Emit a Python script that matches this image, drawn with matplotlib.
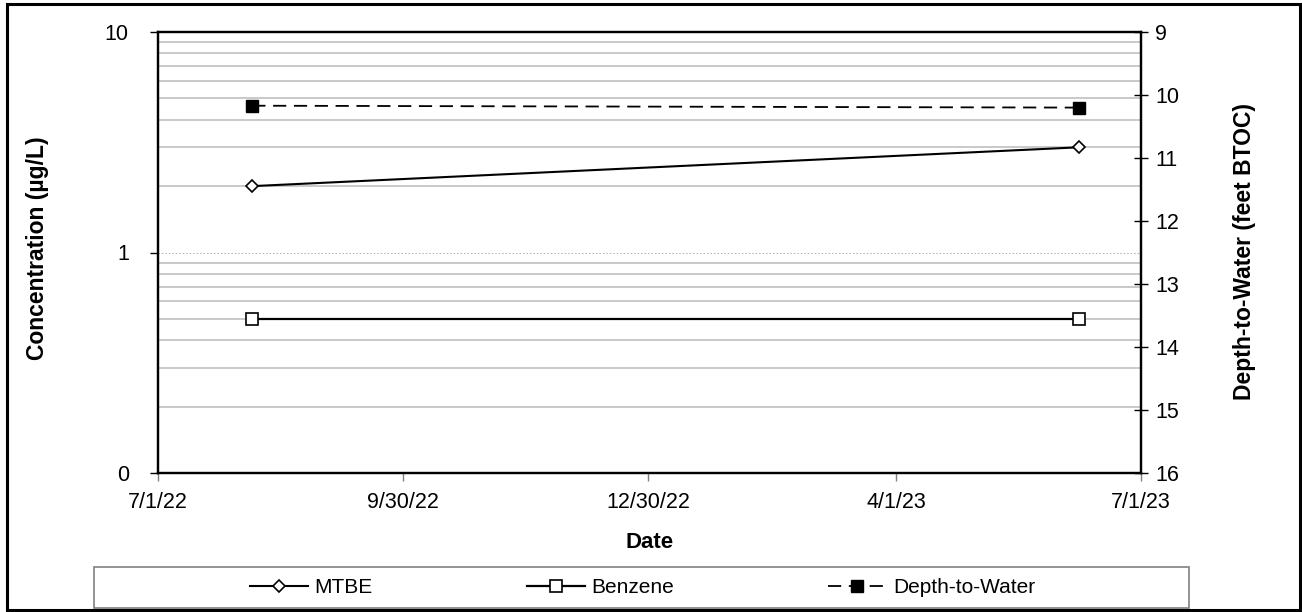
import datetime as dt
import matplotlib
matplotlib.use('Agg')
import matplotlib.pyplot as plt
import matplotlib.dates as mdates
from matplotlib.patches import Rectangle
from matplotlib.ticker import FixedLocator, NullFormatter

plt.rcParams['font.family'] = ['Liberation Sans', 'DejaVu Sans']
plt.rcParams['lines.scale_dashes'] = False

# Data
dates = [dt.date(2022, 8, 5), dt.date(2023, 6, 8)]
mtbe = [2.0, 3.0]
benzene = [0.5, 0.5]
depth = [10.17, 10.20]

tick_dates = [dt.date(2022, 7, 1), dt.date(2022, 9, 30), dt.date(2022, 12, 30),
              dt.date(2023, 4, 1), dt.date(2023, 7, 1)]
tick_labels = ['7/1/22', '9/30/22', '12/30/22', '4/1/23', '7/1/23']
conc_ticks = [0.1, 1, 10]
conc_labels = ['0', '1', '10']
depth_ticks = [9, 10, 11, 12, 13, 14, 15, 16]

W, H = 1302, 612
fig = plt.figure(figsize=(W / 100, H / 100), dpi=100)
ax = fig.add_axes([158 / W, 1 - 473 / H, (1141 - 158) / W, (473 - 32) / H])
ax2 = ax.twinx()

# left axis: log concentration
ax.set_yscale('log')
ax.set_ylim(0.1, 10)
ax.yaxis.set_major_locator(FixedLocator(conc_ticks))
ax.set_yticklabels(conc_labels)
minor = [m * d for d in (0.1, 1) for m in range(2, 10)]
ax.yaxis.set_minor_locator(FixedLocator(minor))
ax.yaxis.set_minor_formatter(NullFormatter())
ax.grid(True, which='minor', axis='y', color='#c0c0c0', lw=1.2)
ax.grid(True, which='major', axis='y', color='#a0a0a0', lw=0.6, ls=(0, (1, 1.5)))
ax.tick_params(axis='y', which='minor', length=0)
ax.tick_params(axis='y', which='major', direction='out', length=6, width=1,
               labelsize=15.5, pad=15)

# x axis: dates
ax.set_xlim(mdates.date2num(tick_dates[0]), mdates.date2num(tick_dates[-1]))
ax.set_xticks(mdates.date2num(tick_dates))
ax.set_xticklabels(tick_labels)
ax.tick_params(axis='x', direction='out', length=6, width=1, color='#808080',
               labelsize=15.5, pad=8)

for s in ax.spines.values():
    s.set_linewidth(1.6)
for s in ax2.spines.values():
    s.set_linewidth(1.6)

l1, = ax.plot(mdates.date2num(dates), mtbe, color='black', lw=1.5, marker='D',
              ms=6.5, mfc='white', mec='black', mew=1.2, label='MTBE')
l2, = ax.plot(mdates.date2num(dates), benzene, color='black', lw=1.6, marker='s',
              ms=8, mfc='white', mec='black', mew=1.2, label='Benzene')

# right axis: depth to water
ax2.set_ylim(16, 9)
ax2.set_yticks(depth_ticks)
ax2.tick_params(axis='y', direction='inout', length=10, width=1,
                labelsize=15.5, pad=5)
l3, = ax2.plot(mdates.date2num(dates), depth, color='black', lw=1.3,
               dashes=(9.5, 5.5), marker='s', ms=8, mfc='black', mec='black',
               label='Depth-to-Water')

fig.text(38 / W, 1 - 248 / H, 'Concentration (µg/L)', rotation=90,
         ha='center', va='center', fontsize=16.5, fontweight='bold')
fig.text(1245 / W, 1 - 252 / H, 'Depth-to-Water (feet BTOC)', rotation=90,
         ha='center', va='center', fontsize=16.5, fontweight='bold')
fig.text((158 + 1141) / 2 / W, 1 - 543 / H, 'Date',
         ha='center', va='center', fontsize=16, fontweight='bold')

# legend box
fig.patches.append(Rectangle((94 / W, 1 - 608 / H), 1095 / W, 41 / H,
                             transform=fig.transFigure, fill=False,
                             edgecolor='#808080', lw=1.2))
fig.legend([l1, l2, l3], ['MTBE', 'Benzene', 'Depth-to-Water'],
           loc='center', ncol=3, mode='expand', frameon=False,
           bbox_to_anchor=(250 / W, 1 - 600 / H, 785 / W, 25 / H),
           borderpad=0, borderaxespad=0, handlelength=2.8,
           handletextpad=0.3, numpoints=1, fontsize=15)

# outer border
fig.patches.append(Rectangle((7 / W, 1 - 610 / H), 1293 / W, 606 / H,
                             transform=fig.transFigure, fill=False,
                             edgecolor='black', lw=2.2))

fig.savefig('out.png', dpi=100)
